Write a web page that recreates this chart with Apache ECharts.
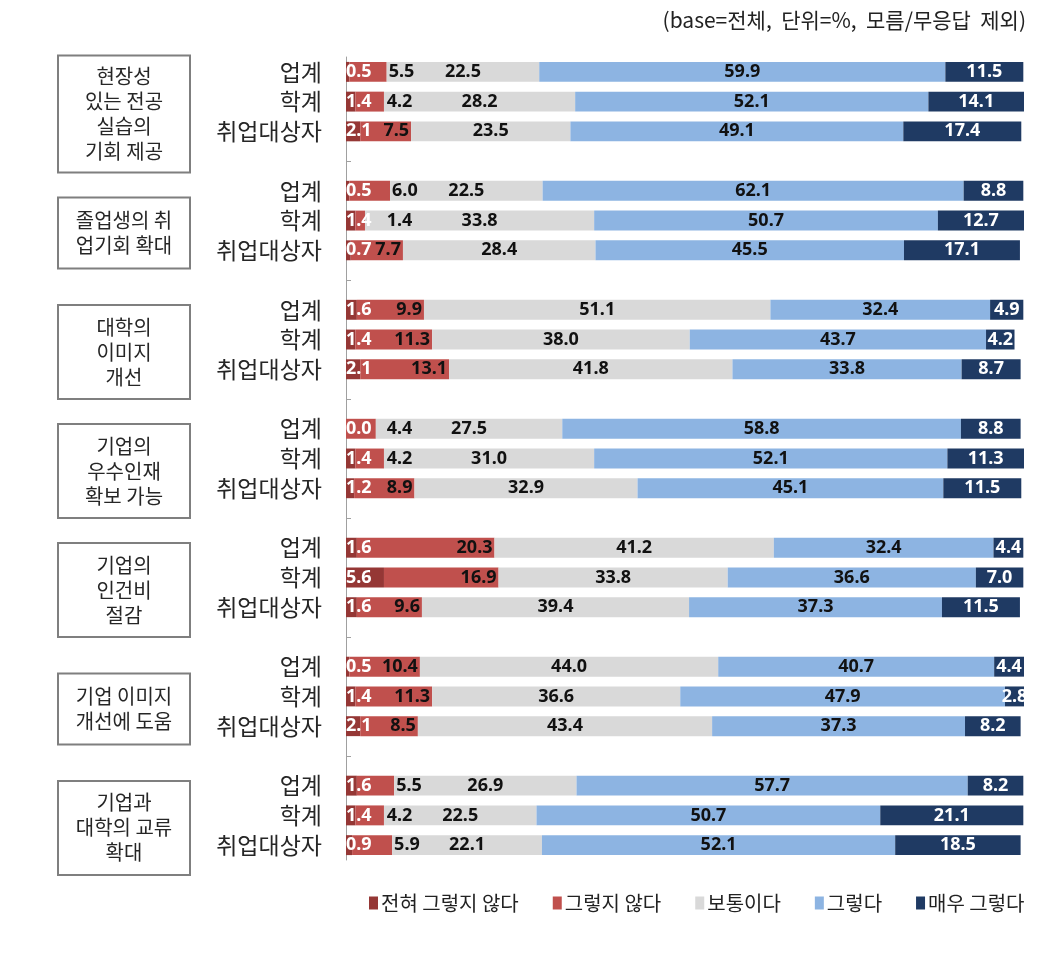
<!DOCTYPE html>
<html>
<head>
<meta charset="utf-8">
<script src="https://cdn.jsdelivr.net/npm/echarts@6/dist/echarts.min.js"></script>
<style>
html,body{margin:0;padding:0;background:#fff;}
#chart{width:1063px;height:960px;}
</style>
</head>
<body>
<div id="chart"></div>
<script>
// ---- data ----
const groupLabels = [
  '현장성\n있는 전공\n실습의\n기회 제공',
  '졸업생의 취\n업기회 확대',
  '대학의\n이미지\n개선',
  '기업의\n우수인재\n확보 가능',
  '기업의\n인건비\n절감',
  '기업 이미지\n개선에 도움',
  '기업과\n대학의 교류\n확대'
];
const respondents = ['업계', '학계', '취업대상자'];
const seriesNames = ['전혀 그렇지 않다', '그렇지 않다', '보통이다', '그렇다', '매우 그렇다'];
const noteText = '(base=전체,  단위=%,  모름/무응답  제외)';

// rows in order: group1(업계,학계,취업대상자), group2(...), ...
const stronglyDisagree = [0.5,1.4,2.1, 0.5,1.4,0.7, 1.6,1.4,2.1, 0.0,1.4,1.2, 1.6,5.6,1.6, 0.5,1.4,2.1, 1.6,1.4,0.9];
const disagree         = [5.5,4.2,7.5, 6.0,1.4,7.7, 9.9,11.3,13.1, 4.4,4.2,8.9, 20.3,16.9,9.6, 10.4,11.3,8.5, 5.5,4.2,5.9];
const neutral          = [22.5,28.2,23.5, 22.5,33.8,28.4, 51.1,38.0,41.8, 27.5,31.0,32.9, 41.2,33.8,39.4, 44.0,36.6,43.4, 26.9,22.5,22.1];
const agree            = [59.9,52.1,49.1, 62.1,50.7,45.5, 32.4,43.7,33.8, 58.8,52.1,45.1, 32.4,36.6,37.3, 40.7,47.9,37.3, 57.7,50.7,52.1];
const stronglyAgree    = [11.5,14.1,17.4, 8.8,12.7,17.1, 4.9,4.2,8.7, 8.8,11.3,11.5, 4.4,7.0,11.5, 4.4,2.8,8.2, 8.2,21.1,18.5];

// ---- styles ----
const colors = ['#953735', '#C0504D', '#D9D9D9', '#8DB4E2', '#1F3A63'];
const labelColors = ['#fff', '#111', '#111', '#111', '#fff'];
const valueSets = [stronglyDisagree, disagree, neutral, agree, stronglyAgree];

// build slot layout: 3 rows per group, blank slot between groups
const yCats = [];
const slotRow = []; // row index or -1
groupLabels.forEach((g, gi) => {
  respondents.forEach((r, ri) => { yCats.push(r); slotRow.push(gi * 3 + ri); });
  if (gi < groupLabels.length - 1) { yCats.push(''); slotRow.push(-1); }
});
const gapIdx = new Set(slotRow.map((v, i) => v < 0 ? i : -1).filter(i => i >= 0));

const fmt = p => (typeof p.value === 'number') ? p.value.toFixed(1) : '';
const PX = 6.78; // approx px per percent used for label nudging

const series = valueSets.map((vals, si) => {
  const data = slotRow.map(ri => {
    if (ri < 0) return '-';
    const v = vals[ri];
    if (si === 1) {
      const end = stronglyDisagree[ri] + v;
      if (v < 7) {
        return { value: v, label: { position: 'right', distance: Math.max(2, (6 - end) * PX) } };
      }
      return { value: v, label: { position: 'insideRight', distance: 2 } };
    }
    return v;
  });
  const label = {
    show: true,
    formatter: fmt,
    color: labelColors[si],
    fontFamily: 'Noto Sans',
    fontWeight: 'bold',
    fontSize: 18,
    offset: [0, 2]
  };
  if (si === 0) { label.position = 'insideLeft'; label.distance = 0; }
  else if (si === 1) { label.position = 'insideRight'; }
  else { label.position = 'inside'; }
  return {
    name: seriesNames[si],
    type: 'bar',
    stack: 'total',
    barCategoryGap: '33%',
    itemStyle: { color: colors[si] },
    label: label,
    labelLayout: { hideOverlap: false },
    emphasis: { disabled: true },
    data: data
  };
});

const chart = echarts.init(document.getElementById('chart'), null, { renderer: 'canvas' });
const option = {
  animation: false,
  backgroundColor: '#fff',
  title: {
    text: noteText,
    right: 32, top: 5,
    textStyle: { fontFamily: 'Noto Sans CJK KR', fontSize: 21, fontWeight: 'normal', color: '#222' }
  },
  legend: {
    left: 364, top: 888,
    itemWidth: 9, itemHeight: 13, itemGap: 34,
    icon: 'rect',
    textStyle: { fontFamily: 'Noto Sans CJK KR', fontSize: 20, color: '#222', padding: [0, 0, 0, -2] },
    data: seriesNames
  },
  grid: { left: 346, right: 39, top: 57, bottom: 100, containLabel: false },
  xAxis: {
    type: 'value', min: 0, max: 100,
    show: false
  },
  yAxis: {
    type: 'category',
    inverse: true,
    data: yCats,
    axisLine: { show: true, lineStyle: { color: '#A0A0A0', width: 1 } },
    axisTick: {
      show: true, inside: true, length: 5, alignWithLabel: true,
      interval: (i) => gapIdx.has(i),
      lineStyle: { color: '#A0A0A0' }
    },
    axisLabel: {
      interval: 0, margin: 24,
      fontFamily: 'Noto Sans CJK KR', fontSize: 23, color: '#262626'
    }
  },
  series: series
};
chart.setOption(option);

// group boxes placed beside each group's middle row
const boxGraphics = groupLabels.map((txt, gi) => {
  const midSlot = gi * 4 + 1;
  const cy = chart.convertToPixel({ yAxisIndex: 0 }, midSlot) + 12.5;
  const lines = txt.split('\n').length;
  const h = 23 * lines + 25;
  return {
    type: 'group',
    children: [
      {
        type: 'rect',
        shape: { x: 58, y: cy - h / 2, width: 132, height: h },
        style: { fill: '#fff', stroke: '#7F7F7F', lineWidth: 2 }
      },
      {
        type: 'text',
        x: 124, y: cy,
        style: {
          text: txt, fill: '#262626',
          font: '20px "Noto Sans CJK KR"',
          lineHeight: 25,
          align: 'center', verticalAlign: 'middle'
        }
      }
    ]
  };
});
chart.setOption({ graphic: boxGraphics });
</script>
</body>
</html>
